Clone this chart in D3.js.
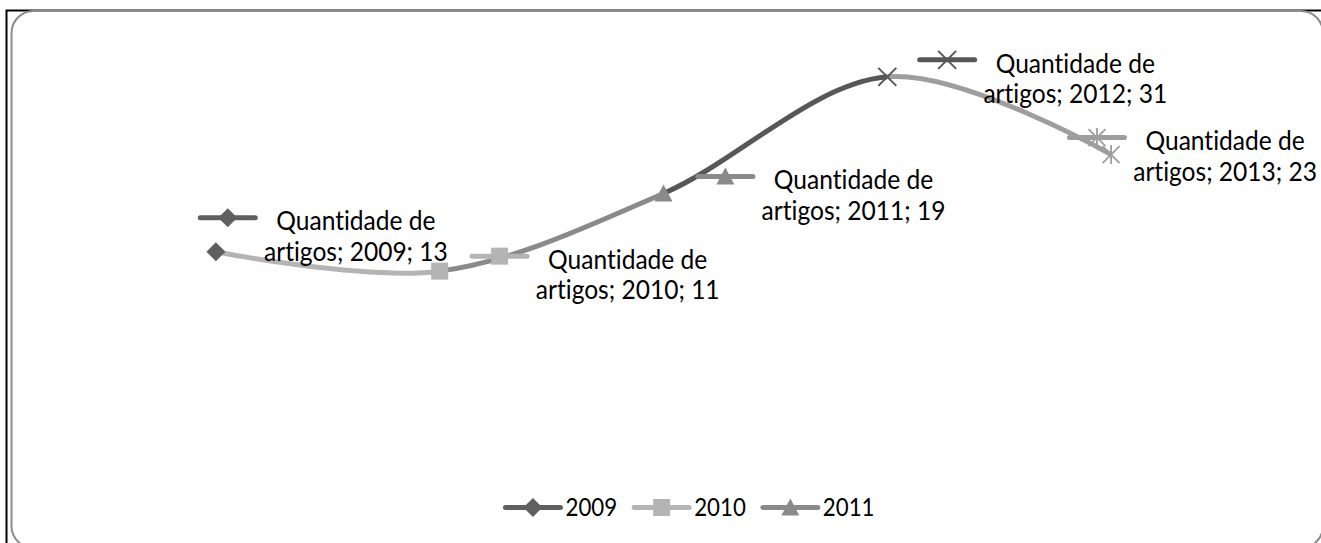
<!DOCTYPE html>
<html>
<head>
<meta charset="utf-8">
<script src="https://cdn.jsdelivr.net/npm/d3@7/dist/d3.min.js"></script>
<style>
  html, body { margin: 0; padding: 0; background: #fff; }
  svg { display: block; }
  text { font-family: Lato, "Liberation Sans", sans-serif; fill: #000; font-variant-ligatures: none; }
</style>
</head>
<body>
<svg id="chart" width="1321" height="543"></svg>
<script>
// ---- data ----
const seriesName = "Quantidade de artigos";
const categories = ["2009", "2010", "2011", "2012", "2013"];
const values = [13, 11, 19, 31, 23];
const legendItems = ["2009", "2010", "2011"];
const yDomain = [0, 35];

// ---- styles ----
const pointColors = ["#5f5f5f", "#b4b4b4", "#8a8a8a", "#575757", "#9e9e9e"];
const markerShapes = ["diamond", "square", "triangle", "x", "star"];
const labelOffsets = [[140, -31], [188, -12], [190, -14], [188, -14], [114, -14]];
const squeeze = 0.91;

const W = 1321, H = 543;
const svg = d3.select("#chart");

// frame
svg.append("path").attr("d", `M6.5,${H} V10.5 H${W}`)
  .attr("fill", "none").attr("stroke", "#000").attr("stroke-width", 2);
svg.append("rect").attr("x", 11.5).attr("y", 11).attr("width", 1311.5).attr("height", 537)
  .attr("rx", 22).attr("ry", 22).attr("fill", "#fff").attr("stroke", "#8c8c8c").attr("stroke-width", 2);

const x = d3.scaleBand().domain(categories).range([104, 1223]);
const xc = c => x(c) + x.bandwidth() / 2;
const y = d3.scaleLinear().domain(yDomain).range([378, 38]);

const pts = categories.map((c, i) => ({ c, v: values[i], i }));

const line = d3.line().x(d => xc(d.c)).y(d => y(d.v)).curve(d3.curveCardinal.tension(0));
const defs = svg.append("defs");

// segments, coloured by the point they end at
for (let i = 0; i < pts.length - 1; i++) {
  const id = "seg" + i;
  defs.append("clipPath").attr("id", id).append("rect")
    .attr("x", xc(categories[i])).attr("y", 0)
    .attr("width", xc(categories[i + 1]) - xc(categories[i])).attr("height", H);
  svg.append("path").datum(pts).attr("d", line)
    .attr("fill", "none").attr("stroke", pointColors[i + 1]).attr("stroke-width", 5)
    .attr("clip-path", `url(#${id})`);
}

function marker(g, shape, cx, cy, color) {
  const p = d3.path();
  if (shape === "diamond") {
    const r = 9.5;
    p.moveTo(cx, cy - r); p.lineTo(cx + r, cy); p.lineTo(cx, cy + r); p.lineTo(cx - r, cy); p.closePath();
    g.append("path").attr("d", p.toString()).attr("fill", color);
  } else if (shape === "square") {
    const s = 17;
    g.append("rect").attr("x", cx - s / 2).attr("y", cy - s / 2).attr("width", s).attr("height", s).attr("fill", color);
  } else if (shape === "triangle") {
    const w = 18, h = 16;
    p.moveTo(cx, cy - h / 2 - 1); p.lineTo(cx + w / 2, cy + h / 2); p.lineTo(cx - w / 2, cy + h / 2); p.closePath();
    g.append("path").attr("d", p.toString()).attr("fill", color);
  } else if (shape === "x") {
    const r = 9;
    p.moveTo(cx - r, cy - r); p.lineTo(cx + r, cy + r); p.moveTo(cx + r, cy - r); p.lineTo(cx - r, cy + r);
    g.append("path").attr("d", p.toString()).attr("fill", "none").attr("stroke", color).attr("stroke-width", 2);
  } else if (shape === "star") {
    const r = 8.5;
    p.moveTo(cx - r, cy - r); p.lineTo(cx + r, cy + r); p.moveTo(cx + r, cy - r); p.lineTo(cx - r, cy + r);
    p.moveTo(cx, cy - r - 1); p.lineTo(cx, cy + r + 1);
    g.append("path").attr("d", p.toString()).attr("fill", "none").attr("stroke", color).attr("stroke-width", 1.8);
  }
}

// markers
const mg = svg.append("g");
pts.forEach(d => marker(mg, markerShapes[d.i], xc(d.c), y(d.v), pointColors[d.i]));

function textAt(g, tx, midY, str, size, anchor) {
  const t = g.append("text")
    .attr("transform", `translate(${tx},${midY + size * 0.716 / 2}) scale(${squeeze},1)`)
    .attr("text-anchor", anchor).style("font-size", size + "px").text(str);
  return t;
}

function legendKey(g, x0, x1, cy, shape, color) {
  g.append("line").attr("x1", x0).attr("x2", x1).attr("y1", cy).attr("y2", cy)
    .attr("stroke", color).attr("stroke-width", 5).attr("stroke-linecap", "round");
  marker(g, shape, (x0 + x1) / 2, cy, color);
}

// data labels
const lg = svg.append("g");
const labelSize = 27, lineGap = 30.5;
pts.forEach(d => {
  const full = `${seriesName}; ${d.c}; ${d.v}`;
  const words = full.split(" ");
  const l1 = words.slice(0, 2).join(" ");
  const l2 = words.slice(2).join(" ");
  const cx = xc(d.c) + labelOffsets[d.i][0];
  const mid1 = y(d.v) + labelOffsets[d.i][1];
  const t1 = textAt(lg, cx, mid1, l1, labelSize, "middle");
  textAt(lg, cx, mid1 + lineGap, l2, labelSize, "middle");
  const w1 = t1.node().getComputedTextLength() * squeeze;
  const keyRight = cx - w1 / 2 - 21;
  legendKey(lg, keyRight - 55, keyRight, mid1 - 3, markerShapes[d.i], pointColors[d.i]);
});

// legend
const legSize = 24.5, legMid = 507.5, keyLen = 55, keyGap = 5, itemGap = 17;
const leg = svg.append("g");
const widths = legendItems.map(s => {
  const t = textAt(leg, 0, -100, s, legSize, "start");
  const w = t.node().getComputedTextLength() * squeeze;
  t.remove();
  return w;
});
const total = d3.sum(widths) + legendItems.length * (keyLen + keyGap) + (legendItems.length - 1) * itemGap;
let lx = 690 - total / 2;
legendItems.forEach((s, i) => {
  const idx = categories.indexOf(s);
  legendKey(leg, lx, lx + keyLen, legMid, markerShapes[idx], pointColors[idx]);
  textAt(leg, lx + keyLen + keyGap, legMid, s, legSize, "start");
  lx += keyLen + keyGap + widths[i] + itemGap;
});
</script>
</body>
</html>
